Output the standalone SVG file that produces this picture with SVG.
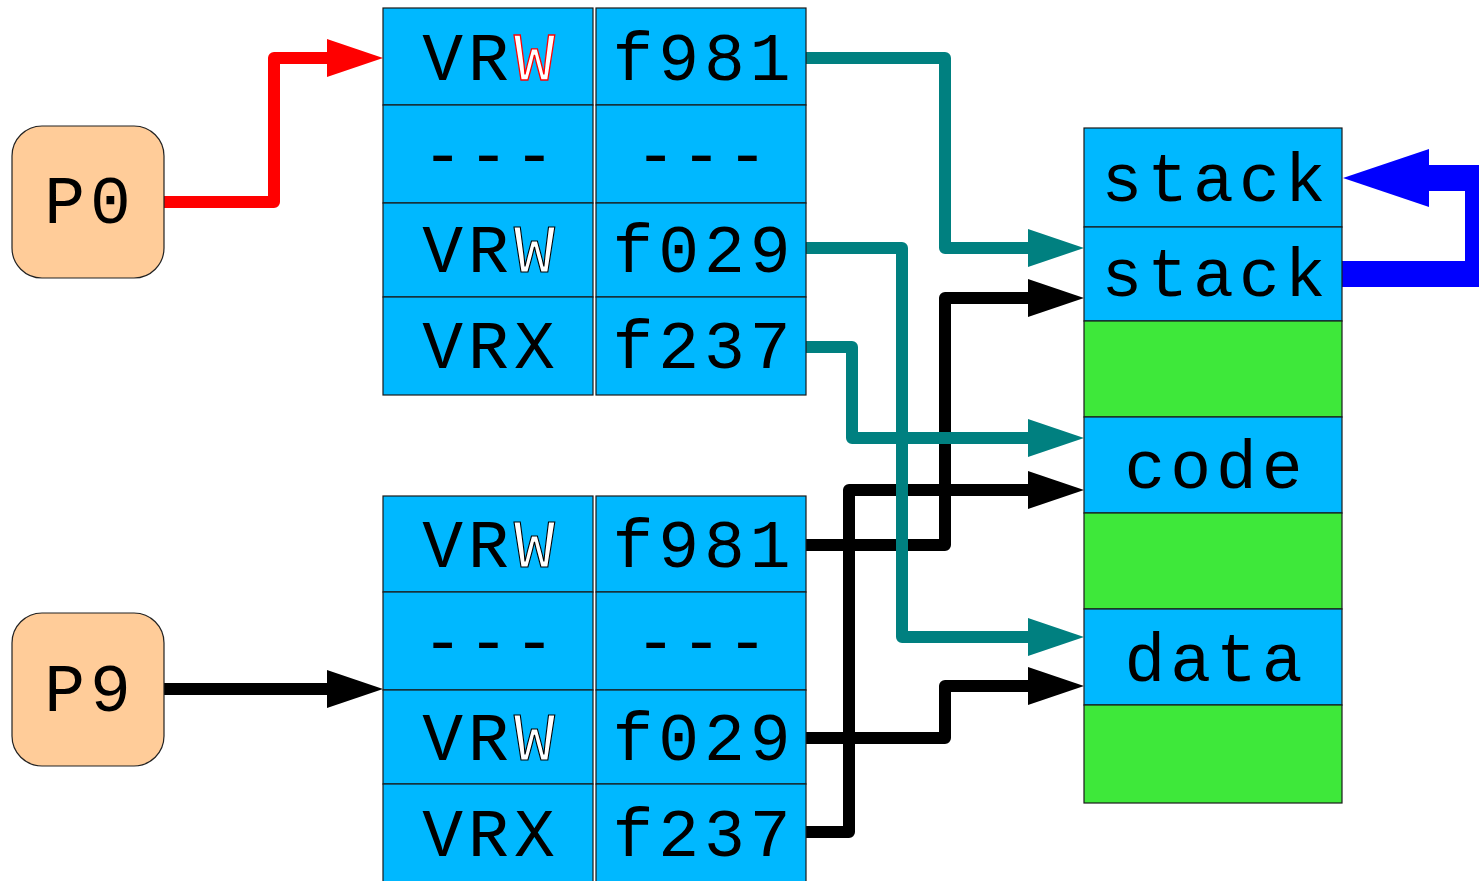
<svg xmlns="http://www.w3.org/2000/svg" width="1479" height="881" viewBox="0 0 1479 881">
<style>
.cell{fill:#00B8FF;stroke:#1a1a1a;stroke-width:1.2}
.free{fill:#3EE83A;stroke:#1a1a1a;stroke-width:1.2}
.proc{fill:#FFCC99;stroke:#222;stroke-width:1.2}
text{font-family:"Nimbus Mono PS","Courier New",Courier,"Liberation Mono","DejaVu Sans Mono",monospace;font-size:68px;letter-spacing:5px;fill:#000;text-anchor:middle}
.wr{fill:#fff;stroke:#f00;stroke-width:1.3}
.wk{fill:#fff;stroke:#000;stroke-width:1.1}
.ln{fill:none;stroke-width:12;stroke-linejoin:round}
</style>
<defs>
<marker id="aRed" markerUnits="userSpaceOnUse" markerWidth="56" markerHeight="38" refX="0" refY="19" orient="auto"><path d="M0,0 L56,19 L0,38 z" fill="#f00"/></marker>
<marker id="aBlack" markerUnits="userSpaceOnUse" markerWidth="56" markerHeight="38" refX="0" refY="19" orient="auto"><path d="M0,0 L56,19 L0,38 z" fill="#000"/></marker>
<marker id="aTeal" markerUnits="userSpaceOnUse" markerWidth="56" markerHeight="38" refX="0" refY="19" orient="auto"><path d="M0,0 L56,19 L0,38 z" fill="#008080"/></marker>
<marker id="aBlue" markerUnits="userSpaceOnUse" markerWidth="86" markerHeight="58" refX="0" refY="29" orient="auto"><path d="M0,0 L86,29 L0,58 z" fill="#00f"/></marker>
</defs>

<g id="connectors">
<path class="ln" stroke="#f00" d="M164,202 H274 V58 H327" marker-end="url(#aRed)"/>
<path class="ln" stroke="#000" d="M164,689 H327" marker-end="url(#aBlack)"/>
<path class="ln" stroke="#000" d="M806,545 H945 V298 H1028" marker-end="url(#aBlack)"/>
<path class="ln" stroke="#000" d="M806,832 H849 V490 H1028" marker-end="url(#aBlack)"/>
<path class="ln" stroke="#000" d="M806,738 H945 V686 H1028" marker-end="url(#aBlack)"/>
<path class="ln" stroke="#008080" d="M806,58 H945 V248 H1028" marker-end="url(#aTeal)"/>
<path class="ln" stroke="#008080" d="M806,248 H902 V637 H1028" marker-end="url(#aTeal)"/>
<path class="ln" stroke="#008080" d="M806,347 H852 V438 H1028" marker-end="url(#aTeal)"/>
<path fill="none" stroke="#00f" stroke-width="26" stroke-linejoin="miter" d="M1342,274 H1478 V178 H1429" marker-end="url(#aBlue)"/>
</g>

<g id="P0">
<rect class="proc" x="12" y="126" width="152" height="152" rx="30"/>
<text x="90" y="223">P0</text>
</g>
<g id="P9">
<rect class="proc" x="12" y="613" width="152" height="153" rx="30"/>
<text x="90" y="711">P9</text>
</g>

<g id="table0">
<rect class="cell" x="383" y="8" width="210" height="97"/>
<rect class="cell" x="596" y="8" width="210" height="97"/>
<rect class="cell" x="383" y="105" width="210" height="98"/>
<rect class="cell" x="596" y="105" width="210" height="98"/>
<rect class="cell" x="383" y="203" width="210" height="94"/>
<rect class="cell" x="596" y="203" width="210" height="94"/>
<rect class="cell" x="383" y="297" width="210" height="98"/>
<rect class="cell" x="596" y="297" width="210" height="98"/>
<text x="491" y="80">VR<tspan class="wr">W</tspan></text>
<text x="704" y="80">f981</text>
<text x="491" y="177">---</text>
<text x="704" y="177">---</text>
<text x="491" y="272">VR<tspan class="wk">W</tspan></text>
<text x="704" y="272">f029</text>
<text x="491" y="368">VRX</text>
<text x="704" y="368">f237</text>
</g>

<g id="table9">
<rect class="cell" x="383" y="496" width="210" height="96"/>
<rect class="cell" x="596" y="496" width="210" height="96"/>
<rect class="cell" x="383" y="592" width="210" height="98"/>
<rect class="cell" x="596" y="592" width="210" height="98"/>
<rect class="cell" x="383" y="690" width="210" height="94"/>
<rect class="cell" x="596" y="690" width="210" height="94"/>
<rect class="cell" x="383" y="784" width="210" height="106"/>
<rect class="cell" x="596" y="784" width="210" height="106"/>
<text x="491" y="567">VR<tspan class="wk">W</tspan></text>
<text x="704" y="567">f981</text>
<text x="491" y="664">---</text>
<text x="704" y="664">---</text>
<text x="491" y="760">VR<tspan class="wk">W</tspan></text>
<text x="704" y="760">f029</text>
<text x="491" y="856">VRX</text>
<text x="704" y="856">f237</text>
</g>

<g id="memory">
<rect class="cell" x="1084" y="128" width="258" height="99"/>
<rect class="cell" x="1084" y="227" width="258" height="94"/>
<rect class="free" x="1084" y="321" width="258" height="96"/>
<rect class="cell" x="1084" y="417" width="258" height="96"/>
<rect class="free" x="1084" y="513" width="258" height="96"/>
<rect class="cell" x="1084" y="609" width="258" height="96"/>
<rect class="free" x="1084" y="705" width="258" height="98"/>
<text x="1216" y="201">stack</text>
<text x="1216" y="296">stack</text>
<text x="1216" y="488">code</text>
<text x="1216" y="681">data</text>
</g>
</svg>
